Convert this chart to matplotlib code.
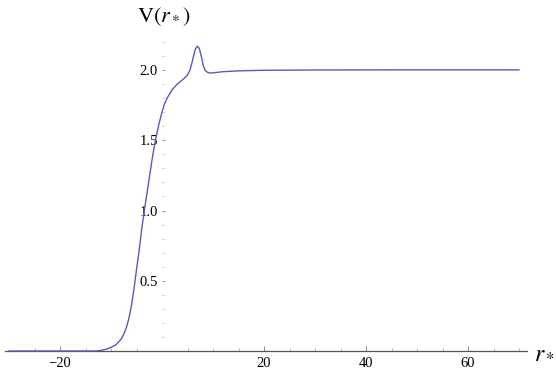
import matplotlib
matplotlib.use("Agg")
import matplotlib.pyplot as plt
from matplotlib.ticker import MultipleLocator, FixedLocator

plt.rcParams['mathtext.fontset'] = 'stix'
plt.rcParams['font.family'] = ['Liberation Serif', 'DejaVu Serif']

# Potential V(r*)
r_star = [-30, -20, -14, -13, -12, -11, -10, -9, -8, -7.5, -7, -6.5, -6, -5.5, -5,
          -4.5, -4, -3.5, -3, -2.5, -2, -1.5, -1, -0.5, 0, 0.5, 1, 1.5, 2, 2.5,
          3, 3.5, 4, 4.5, 5, 5.5, 6, 6.5, 6.9, 7.3, 7.7, 8.1, 8.5, 9, 9.5,
          10.5, 12, 15, 20, 30, 45, 70]
V = [0.0, 0.0, 0.0, 0.0, 0.004, 0.012, 0.025, 0.045, 0.085, 0.12, 0.165, 0.23, 0.32,
     0.44, 0.58, 0.71, 0.86, 0.99, 1.11, 1.23, 1.35, 1.46, 1.55, 1.63, 1.70, 1.76,
     1.80, 1.83, 1.86, 1.88, 1.90, 1.915, 1.93, 1.945, 1.965, 2.0, 2.07, 2.145, 2.17,
     2.155, 2.10, 2.03, 1.995, 1.982, 1.978, 1.982, 1.988, 1.994, 1.998, 2.0, 2.001, 2.001]

x_major = [-20, 20, 40, 60]
x_minor = [-25, -15, -10, -5, 5, 10, 15, 25, 30, 35, 45, 50, 55, 65, 70]
y_major = [0.5, 1.0, 1.5, 2.0]
y_labels = ["0.5", "1.0", "1.5", "2.0"]

W, H = 556, 372
fig = plt.figure(figsize=(W / 100, H / 100), dpi=100)
left_px, right_px = 5, 527
bottom_px, top_px = 351, 36
ax = fig.add_axes([left_px / W, (H - bottom_px) / H,
                   (right_px - left_px) / W, (bottom_px - top_px) / H])

x0_px, px_per_unit = 162, 5.1
ax.set_xlim((left_px - x0_px) / px_per_unit, (right_px - x0_px) / px_per_unit)
ax.set_ylim(0, (bottom_px - top_px) / 140.5)

ax.plot(r_star, V, color='#5a5ab8', lw=1.0, clip_on=False, zorder=3,
        solid_joinstyle='round')

for s in ['top', 'right']:
    ax.spines[s].set_visible(False)
ax.spines['left'].set_position(('data', 0))
ax.spines['left'].set_color('none')
ax.spines['bottom'].set_color('#555555')
ax.spines['bottom'].set_linewidth(0.9)

ax.xaxis.set_major_locator(FixedLocator(x_major))
ax.xaxis.set_minor_locator(FixedLocator(x_minor))
ax.yaxis.set_major_locator(FixedLocator(y_major))
ax.yaxis.set_minor_locator(MultipleLocator(0.1))
ax.set_yticklabels(y_labels)

ax.tick_params(axis='x', which='major', direction='in', length=3.5, width=0.6,
               color='#777777', labelsize=10.5, pad=4)
ax.tick_params(axis='x', which='minor', direction='in', length=2, width=0.5,
               color='#999999')
ax.tick_params(axis='y', which='major', direction='in', length=2.5, width=0.6,
               color='#888888', labelsize=10.5, pad=3)
ax.tick_params(axis='y', which='minor', direction='in', length=1.5, width=0.5,
               color='#aaaaaa')
ax.set_xticklabels(["\u221220", "20", "40", "60"])

fig.text(137 / W, 1 - 17 / H, r'$\mathrm{V}(r_*)$', fontsize=16,
         ha='left', va='center')
fig.text(534 / W, 1 - 353 / H, r'$r_*$', fontsize=17, ha='left', va='center')

fig.savefig('out.png', dpi=100)
